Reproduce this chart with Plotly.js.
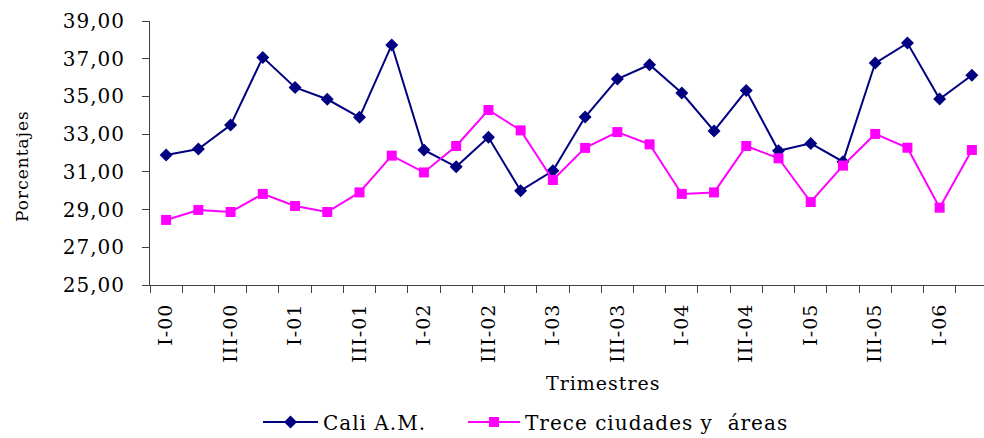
<!DOCTYPE html>
<html><head><meta charset="utf-8">
<script src="https://cdn.plot.ly/plotly-3.0.1.min.js"></script>
<style>html,body{margin:0;padding:0;overflow:hidden;background:#fff;width:984px;height:438px}
svg text{letter-spacing:1px}</style>
</head><body><div id="chart"></div>
<script>
const categories = ["I-00","II-00","III-00","IV-00","I-01","II-01","III-01","IV-01","I-02","II-02","III-02","IV-02","I-03","II-03","III-03","IV-03","I-04","II-04","III-04","IV-04","I-05","II-05","III-05","IV-05","I-06","II-06"];
const cali = [31.89,32.21,33.48,37.07,35.48,34.85,33.89,37.73,32.16,31.27,32.83,30.00,31.06,33.91,35.92,36.68,35.18,33.17,35.31,32.12,32.51,31.54,36.77,37.83,34.86,36.12];
const trece = [28.45,28.98,28.87,29.83,29.19,28.87,29.91,31.86,30.97,32.37,34.28,33.20,30.57,32.27,33.11,32.46,29.83,29.91,32.37,31.72,29.40,31.33,33.01,32.28,29.10,32.16];
const yTicks = [25,27,29,31,33,35,37,39];

const idx = categories.map((c,i)=>i);
const labIdx = idx.filter(i=>i%2===0);
const bounds = categories.map((c,i)=>i-0.5).concat([categories.length-0.5]);
const font = "DejaVu Serif, serif";

const data = [
  {x: idx, y: cali, name: "Cali A.M.", type: "scatter", mode: "lines+markers", legend: "legend",
   line: {color: "#000080", width: 2}, marker: {symbol: "diamond", size: 10, color: "#000080"}},
  {x: idx, y: trece, name: "Trece ciudades y  áreas", type: "scatter", mode: "lines+markers", legend: "legend2",
   line: {color: "#FF00FF", width: 2}, marker: {symbol: "square", size: 10, color: "#FF00FF"}}
];
const legFont = {family: font, size: 20, color: "#000"};
const layout = {
  width: 990, height: 438,
  margin: {l: 150, r: 2, t: 21, b: 153, autoexpand: false},
  paper_bgcolor: "#fff", plot_bgcolor: "#fff",
  separators: ",.",
  font: {family: font, size: 20, color: "#000"},
  showlegend: true,
  legend: {orientation: "h", xref: "container", yref: "container", x: 0.2606, xanchor: "left", y: 0.0365, yanchor: "middle",
           font: legFont, itemwidth: 55, bgcolor: "rgba(0,0,0,0)"},
  legend2: {orientation: "h", xref: "container", yref: "container", x: 0.4677, xanchor: "left", y: 0.0365, yanchor: "middle",
           font: legFont, itemwidth: 52, bgcolor: "rgba(0,0,0,0)"},
  xaxis: {range: [-0.5, categories.length-0.5], tickvals: labIdx, ticktext: labIdx.map(i=>categories[i]),
          tickangle: -90, ticks: "", showgrid: false, zeroline: false, showline: true,
          linecolor: "#404040", linewidth: 1, ticklabelstandoff: 10,
          tickfont: {family: font, size: 19, color: "#000"},
          minor: {tickvals: bounds, ticks: "outside", ticklen: 7, tickcolor: "#404040", tickwidth: 1, showgrid: false}},
  yaxis: {range: [25, 39], tickvals: yTicks, tickformat: ".2f", ticks: "outside", ticklen: 7,
          tickcolor: "#404040", showgrid: false, zeroline: false, showline: true,
          linecolor: "#404040", linewidth: 1, ticklabelstandoff: 13,
          tickfont: {family: font, size: 20, color: "#000"}},
  annotations: [
    {text: "Porcentajes", xref: "paper", yref: "paper", x: -0.1527, y: 0.451, textangle: -90,
     showarrow: false, font: {family: font, size: 17, color: "#000"}, xanchor: "center", yanchor: "middle"},
    {text: "Trimestres", xref: "paper", yref: "paper", x: 0.5406, y: -0.371,
     showarrow: false, font: {family: font, size: 19, color: "#000"}, xanchor: "center", yanchor: "middle"}
  ]
};
Plotly.newPlot("chart", data, layout, {displayModeBar: false, staticPlot: true});
</script></body></html>
